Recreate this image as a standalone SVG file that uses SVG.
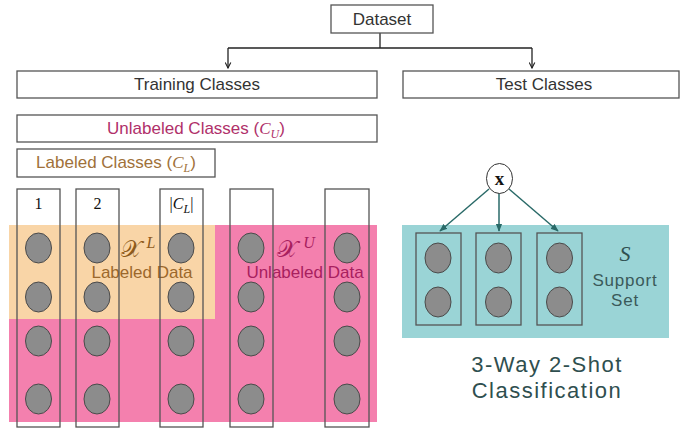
<svg xmlns="http://www.w3.org/2000/svg" width="694" height="428" viewBox="0 0 694 428">
<defs>
<style>
.box{fill:#fff;stroke:#555;stroke-width:1.3}
.col{fill:none;stroke:#555;stroke-width:1.3}
.dot{fill:#8c8c8c;stroke:#4a4a4a;stroke-width:1}
.t{font-family:"Liberation Sans","Noto Sans",sans-serif;font-size:17px;fill:#333;text-anchor:middle}
.m{font-family:"Liberation Serif","DejaVu Serif",serif;fill:#111;text-anchor:middle}
.conn{stroke:#222;stroke-width:1.3;fill:none}
.tconn{stroke:#2a6a68;stroke-width:1.5;fill:none}
</style>
<marker id="ah" viewBox="0 0 10 10" refX="9" refY="5" markerWidth="7" markerHeight="7" orient="auto" markerUnits="userSpaceOnUse">
<path d="M1,1 L9,5 L1,9" fill="none" stroke="#222" stroke-width="1.6"/>
</marker>
<marker id="ath" viewBox="0 0 10 10" refX="9" refY="5" markerWidth="8" markerHeight="8" orient="auto" markerUnits="userSpaceOnUse">
<path d="M0,1 L10,5 L0,9 Z" fill="#2a6a68"/>
</marker>
</defs>

<!-- background regions -->
<rect id="unlabeled-region" x="9" y="225" width="368" height="197" fill="#f480ae"/>
<rect id="labeled-region" x="9" y="225" width="206" height="94" fill="#f9d5a7"/>
<rect id="support-region" x="402" y="225" width="267" height="113" fill="#9ad4d6"/>

<g id="connectors">
<path class="conn" d="M380,33 V48"/>
<path class="conn" d="M228,48 H532"/>
<path class="conn" d="M228,48 V68" marker-end="url(#ah)"/>
<path class="conn" d="M532,48 V68" marker-end="url(#ah)"/>
<path class="tconn" d="M489,189 L440,231" marker-end="url(#ath)"/>
<path class="tconn" d="M499,193 V231" marker-end="url(#ath)"/>
<path class="tconn" d="M509,189 L558,231" marker-end="url(#ath)"/>
</g>

<g id="dataset"><rect class="box" x="331" y="5" width="102" height="28"/><text class="t" x="382" y="25">Dataset</text></g>
<g id="training"><rect class="box" x="17" y="71" width="360" height="27"/><text class="t" x="197" y="90">Training Classes</text></g>
<g id="test"><rect class="box" x="403" y="71" width="276" height="27"/><text class="t" x="544" y="90">Test Classes</text></g>

<g id="unlabeled-classes"><rect class="box" x="17" y="115" width="360" height="27"/>
<text class="t" x="196" y="134" style="fill:#b0306a">Unlabeled Classes (<tspan font-family="Liberation Serif,serif" font-style="italic">C</tspan><tspan font-family="Liberation Serif,serif" font-style="italic" font-size="12" dy="4">U</tspan><tspan dy="-4">)</tspan></text></g>
<g id="labeled-classes"><rect class="box" x="17" y="149" width="198" height="28"/>
<text class="t" x="116" y="168" style="fill:#a0713a">Labeled Classes (<tspan font-family="Liberation Serif,serif" font-style="italic">C</tspan><tspan font-family="Liberation Serif,serif" font-style="italic" font-size="12" dy="4">L</tspan><tspan dy="-4">)</tspan></text></g>

<g id="region-labels">
<text x="138" y="257" font-family="DejaVu Sans,DejaVu Serif,serif" font-size="24" fill="#8e5b1c" text-anchor="middle">𝒳<tspan font-family="Liberation Serif,serif" font-style="italic" font-size="16" dx="5" dy="-9">L</tspan></text>
<text x="142" y="278" font-family="Liberation Sans,sans-serif" font-size="17" fill="#9c682c" text-anchor="middle">Labeled Data</text>
<text x="296" y="257" font-family="DejaVu Sans,DejaVu Serif,serif" font-size="24" fill="#a8205f" text-anchor="middle">𝒳<tspan font-family="Liberation Serif,serif" font-style="italic" font-size="16" dx="5" dy="-9">U</tspan></text>
<text x="305" y="278" font-family="Liberation Sans,sans-serif" font-size="17" fill="#a8205f" text-anchor="middle">Unlabeled Data</text>
</g>

<g id="class-1"><rect class="col" x="17" y="189" width="43" height="238"/><text class="m" x="38.5" y="209" font-size="16">1</text>
<ellipse class="dot" cx="38.5" cy="248" rx="13" ry="15"/><ellipse class="dot" cx="38.5" cy="297" rx="13" ry="15"/><ellipse class="dot" cx="38.5" cy="341" rx="13" ry="15"/><ellipse class="dot" cx="38.5" cy="399" rx="13" ry="15"/></g>
<g id="class-2"><rect class="col" x="76" y="189" width="43" height="238"/><text class="m" x="97.5" y="209" font-size="16">2</text>
<ellipse class="dot" cx="97" cy="248" rx="13" ry="15"/><ellipse class="dot" cx="97" cy="297" rx="13" ry="15"/><ellipse class="dot" cx="97" cy="341" rx="13" ry="15"/><ellipse class="dot" cx="97" cy="399" rx="13" ry="15"/></g>
<g id="class-cl"><rect class="col" x="160" y="189" width="43" height="238"/><text class="m" x="181.5" y="209" font-size="16">|<tspan font-style="italic">C</tspan><tspan font-style="italic" font-size="12" dy="4">L</tspan><tspan dy="-4">|</tspan></text>
<ellipse class="dot" cx="181" cy="248" rx="13" ry="15"/><ellipse class="dot" cx="181" cy="297" rx="13" ry="15"/><ellipse class="dot" cx="181" cy="341" rx="13" ry="15"/><ellipse class="dot" cx="181" cy="399" rx="13" ry="15"/></g>
<g id="class-u1"><rect class="col" x="230" y="189" width="43" height="238"/>
<ellipse class="dot" cx="251" cy="248" rx="13" ry="15"/><ellipse class="dot" cx="251" cy="297" rx="13" ry="15"/><ellipse class="dot" cx="251" cy="341" rx="13" ry="15"/><ellipse class="dot" cx="251" cy="399" rx="13" ry="15"/></g>
<g id="class-u2"><rect class="col" x="325" y="189" width="44" height="238"/>
<ellipse class="dot" cx="347" cy="248" rx="13" ry="15"/><ellipse class="dot" cx="347" cy="297" rx="13" ry="15"/><ellipse class="dot" cx="347" cy="341" rx="13" ry="15"/><ellipse class="dot" cx="347" cy="399" rx="13" ry="15"/></g>

<g id="query-x"><ellipse cx="499.5" cy="178.5" rx="13" ry="15" fill="#fff" stroke="#333" stroke-width="1"/><text class="m" x="499.5" y="185" font-size="19" font-weight="bold">x</text></g>

<g id="support-1"><rect class="col" x="416" y="233" width="45" height="92"/><ellipse class="dot" cx="438" cy="258" rx="13" ry="15"/><ellipse class="dot" cx="438" cy="302" rx="13" ry="15"/></g>
<g id="support-2"><rect class="col" x="476" y="233" width="45" height="92"/><ellipse class="dot" cx="498.5" cy="258" rx="13" ry="15"/><ellipse class="dot" cx="498.5" cy="302" rx="13" ry="15"/></g>
<g id="support-3"><rect class="col" x="537" y="233" width="45" height="92"/><ellipse class="dot" cx="559.5" cy="258" rx="13" ry="15"/><ellipse class="dot" cx="559.5" cy="302" rx="13" ry="15"/></g>

<g id="support-label">
<text x="625" y="261" font-family="Liberation Serif,serif" font-style="italic" font-size="22" fill="#2f4f4f" text-anchor="middle">S</text>
<text x="625" y="286" font-family="Liberation Sans,sans-serif" font-size="17" letter-spacing="0.8" fill="#3a5a5a" text-anchor="middle">Support</text>
<text x="625" y="306" font-family="Liberation Sans,sans-serif" font-size="17" letter-spacing="0.8" fill="#3a5a5a" text-anchor="middle">Set</text>
</g>
<g id="caption">
<text x="547" y="372" font-family="Liberation Sans,sans-serif" font-size="22" letter-spacing="1.5" fill="#2f4f4f" text-anchor="middle">3-Way 2-Shot</text>
<text x="547" y="398" font-family="Liberation Sans,sans-serif" font-size="22" letter-spacing="1.5" fill="#2f4f4f" text-anchor="middle">Classification</text>
</g>
</svg>
